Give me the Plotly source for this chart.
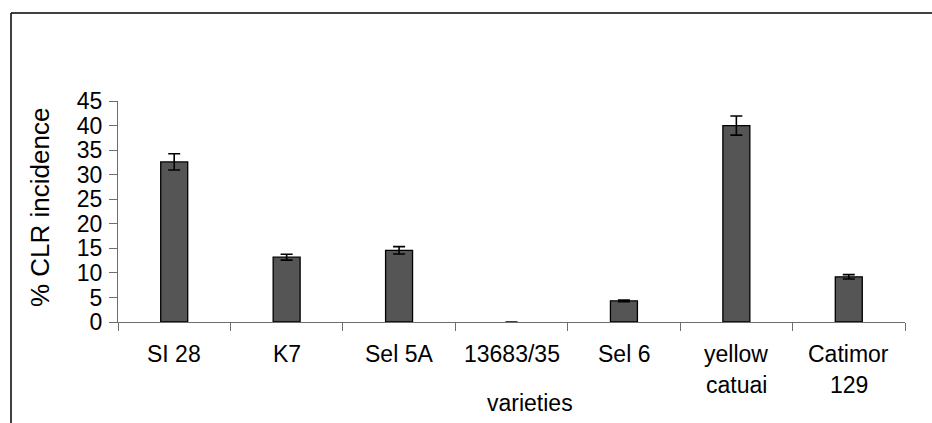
import plotly.graph_objects as go

categories = ["SI 28", "K7", "Sel 5A", "13683/35", "Sel 6", "yellow catuai", "Catimor 129"]
label_line1 = ["SI 28", "K7", "Sel 5A", "13683/35", "Sel 6", "yellow", "Catimor"]
label_line2 = ["", "", "", "", "", "catuai", "129"]
incidence = [32.6, 13.2, 14.6, 0.0, 4.3, 40.0, 9.2]
errors = [1.65, 0.6, 0.75, 0.0, 0.15, 1.95, 0.45]
y_ticks = [0, 5, 10, 15, 20, 25, 30, 35, 40, 45]

W, H = 932, 423
L, R, T, B = 118, 27, 101, 101
pw, ph = W - L - R, H - T - B

def px_to_paper_x(px):
    return (px - L) / pw

def px_to_paper_y(py):
    return (H - B - py) / ph

FONT = "Liberation Sans, Arial, sans-serif"
FS = 23

outline_widths = [0 if v == 0 else 1.3 for v in incidence]

fig = go.Figure()
fig.add_trace(go.Bar(
    x=categories,
    y=incidence,
    marker=dict(color="#555555", line=dict(color="#000000", width=outline_widths)),
    error_y=dict(type="data", array=errors, visible=True, color="#000000", thickness=1.6, width=6),
    width=0.24,
))

annotations = []
for c, l1, l2 in zip(categories, label_line1, label_line2):
    annotations.append(dict(x=c, xref="x", y=px_to_paper_y(354), yref="paper", text=l1,
                            showarrow=False, xanchor="center", yanchor="middle",
                            font=dict(family=FONT, size=FS, color="#000000")))
    if l2:
        annotations.append(dict(x=c, xref="x", y=px_to_paper_y(385), yref="paper", text=l2,
                                showarrow=False, xanchor="center", yanchor="middle",
                                font=dict(family=FONT, size=FS, color="#000000")))

annotations.append(dict(x=px_to_paper_x(530), xref="paper", y=px_to_paper_y(403), yref="paper",
                        text="varieties", showarrow=False, xanchor="center", yanchor="middle",
                        font=dict(family=FONT, size=FS, color="#000000")))
annotations.append(dict(x=px_to_paper_x(40), xref="paper", y=px_to_paper_y(208), yref="paper",
                        text="% CLR incidence", textangle=-90, showarrow=False,
                        xanchor="center", yanchor="middle",
                        font=dict(family=FONT, size=26, color="#000000")))

frame = dict(color="#000000", width=1.5)
shapes = [
    dict(type="line", xref="paper", yref="paper",
         x0=px_to_paper_x(11), x1=px_to_paper_x(932), y0=px_to_paper_y(13), y1=px_to_paper_y(13), line=frame),
    dict(type="line", xref="paper", yref="paper",
         x0=px_to_paper_x(11), x1=px_to_paper_x(11), y0=px_to_paper_y(13), y1=px_to_paper_y(423), line=frame),
]

fig.update_layout(
    width=W, height=H,
    margin=dict(l=L, r=R, t=T, b=B, autoexpand=False),
    plot_bgcolor="white", paper_bgcolor="white",
    showlegend=False,
    annotations=annotations,
    shapes=shapes,
    font=dict(family=FONT, size=FS, color="#000000"),
)
fig.update_xaxes(
    type="category", range=[-0.5, 6.5], showline=True, linecolor="#6e6e6e", linewidth=1,
    ticks="outside", ticklen=8, tickcolor="#6e6e6e", tickson="boundaries",
    showticklabels=False, showgrid=False, zeroline=False,
)
fig.update_yaxes(
    range=[0, 45], tickvals=y_ticks, showline=True, linecolor="#6e6e6e", linewidth=1,
    ticks="outside", ticklen=8, tickcolor="#6e6e6e", showgrid=False, zeroline=False,
    tickfont=dict(family=FONT, size=FS, color="#000000"), ticklabelstandoff=2,
)

fig.write_html("out.html")
